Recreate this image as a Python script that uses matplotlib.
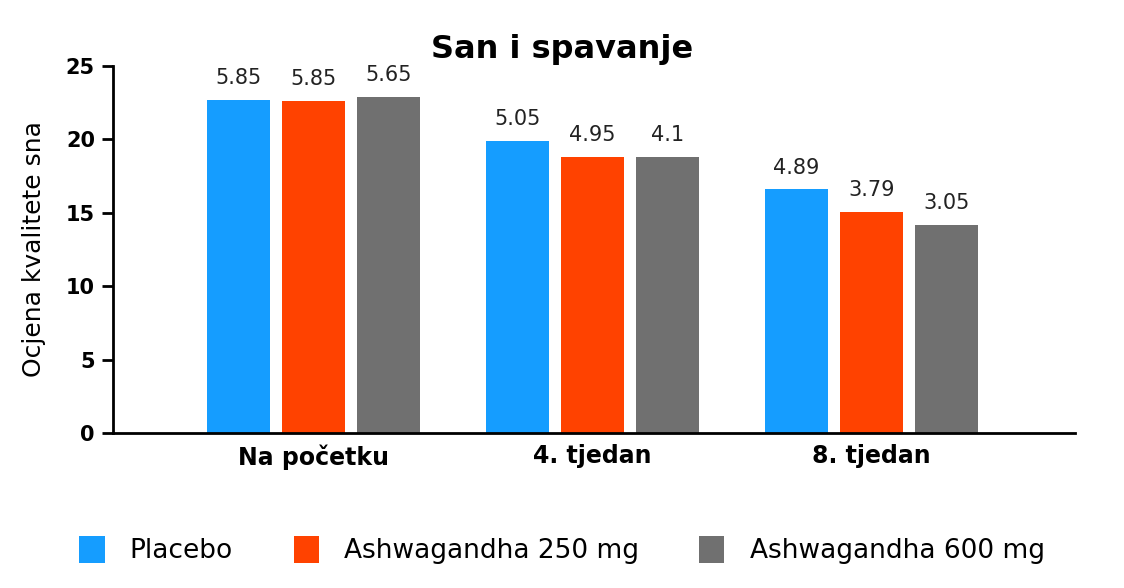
import matplotlib.pyplot as plt
import numpy as np

groups = ["Na početku", "4. tjedan", "8. tjedan"]
series = ["Placebo", "Ashwagandha 250 mg", "Ashwagandha 600 mg"]
colors = ["#159dff", "#ff4200", "#707070"]

# bar heights as drawn (axis scale) and the numbers printed above them
heights = [
    [22.7, 19.9, 16.6],
    [22.6, 18.8, 15.05],
    [22.9, 18.8, 14.2],
]
labels = [
    ["5.85", "5.05", "4.89"],
    ["5.85", "4.95", "3.79"],
    ["5.65", "4.1", "3.05"],
]

plt.rcParams['font.family'] = ['DejaVu Sans']

fig = plt.figure(figsize=(11.24, 5.88), dpi=100)
ax = fig.add_axes([0.1005, 0.2636, 0.8559, 0.6242])

x = np.arange(len(groups))
w = 0.226
step = 0.269
for i, name in enumerate(series):
    bars = ax.bar(x + (i - 1) * step, heights[i], width=w, color=colors[i], label=name)
    for b, lab in zip(bars, labels[i]):
        ax.text(b.get_x() + b.get_width() / 2, b.get_height() + 0.8, lab,
                ha='center', va='bottom', fontsize=15, color='#222222')

ax.set_xlim(-0.72, 2.73)
ax.set_ylim(0, 25)
ax.set_yticks([0, 5, 10, 15, 20, 25])
ax.set_xticks(x)
ax.set_xticklabels(groups, fontsize=17, fontweight='bold')
ax.tick_params(axis='x', length=0, pad=8)
ax.tick_params(axis='y', length=8, width=2, labelsize=15, pad=5)
for t in ax.get_yticklabels():
    t.set_fontweight('bold')
ax.set_ylabel("Ocjena kvalitete sna", fontsize=18, labelpad=14)
for s in ['top', 'right']:
    ax.spines[s].set_visible(False)
for s in ['left', 'bottom']:
    ax.spines[s].set_linewidth(2)

fig.text(0.5, 0.915, "San i spavanje", ha='center', va='center',
         fontsize=23, fontweight='bold')

fig.legend(loc='center', bbox_to_anchor=(0.5, 0.065), ncol=3, frameon=False,
           fontsize=19, handlelength=0.95, handleheight=1.2, columnspacing=2.3,
           handletextpad=0.95)

fig.savefig("out.png", dpi=100)
